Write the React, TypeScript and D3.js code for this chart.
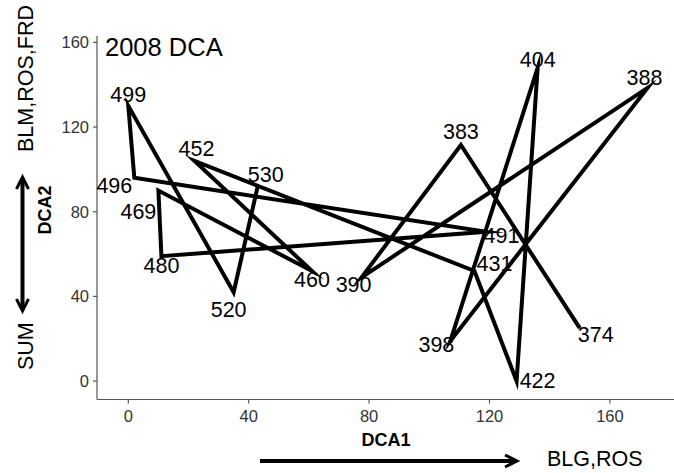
import React from 'react'
import * as d3 from 'd3'

// sites in the order they are joined by the path
const sites = ['530', '520', '499', '496', '491', '480', '469', '460', '452', '431', '422', '404', '398', '388', '390', '383', '374']
const dca1 = [43, 35, 0, 2, 119, 11, 10, 61, 22, 115, 129, 136, 107, 172.5, 77.5, 110.5, 150]
const dca2 = [92, 42, 130, 96, 70.5, 59, 90, 52, 104, 52, 0, 148, 19, 138.5, 49, 111.5, 25]
const xTicks = [0, 40, 80, 120, 160]
const yTicks = [0, 40, 80, 120, 160]

// label offsets in px (repelled labels)
const labelNudge: Record<string, [number, number]> = {
  '530': [8, -12], '520': [-5, 17], '499': [0, -12], '496': [-20, 7],
  '491': [15, 3], '480': [0, 9], '469': [-20, 21], '460': [0, 8],
  '452': [2, -13], '431': [20, -8], '422': [21, -1], '404': [0, -8],
  '398': [-14, 3], '388': [-3, -11], '390': [-8, 7], '383': [0, -14],
  '374': [16, 6],
}

const W = 674, H = 473
const font = '"Liberation Sans", Arial, sans-serif'

export default function App() {
  const x = d3.scaleLinear().domain([-10.4, 180.3]).range([97, 671])
  const y = d3.scaleLinear().domain([-8.7, 163]).range([399.5, 36])

  const pts = sites.map((s, i) => ({ s, a: dca1[i], b: dca2[i] }))
  const line = d3.line<{ a: number; b: number }>()
    .x(d => x(d.a))
    .y(d => y(d.b))

  const axisCol = '#555'
  const fs = 21.5
  const [x0, x1] = x.range()
  const [y0, y1] = y.range()

  return (
    <svg width={W} height={H} style={{ position: 'absolute', left: 0, top: 0, background: '#fff' }} fontFamily={font}>
      {/* axes */}
      <line x1={x0} x2={674} y1={y0} y2={y0} stroke={axisCol} strokeWidth={1.2} />
      <line x1={x0} x2={x0} y1={y0} y2={y1} stroke={axisCol} strokeWidth={1.2} />
      {xTicks.map(t => (
        <g key={'x' + t}>
          <line x1={x(t)} x2={x(t)} y1={y0} y2={y0 + 4} stroke={axisCol} strokeWidth={1.2} />
          <text x={x(t)} y={y0 + 22} textAnchor="middle" fontSize={16.5} fill="#333">{t}</text>
        </g>
      ))}
      {yTicks.map(t => (
        <g key={'y' + t}>
          <line x1={x0 - 4} x2={x0} y1={y(t)} y2={y(t)} stroke={axisCol} strokeWidth={1.2} />
          <text x={x0 - 8} y={y(t) + 6} textAnchor="end" fontSize={16.5} fill="#333">{t}</text>
        </g>
      ))}

      {/* path */}
      <path d={line(pts) || ''} fill="none" stroke="#000" strokeWidth={4} strokeLinejoin="miter" strokeMiterlimit={10} />

      {/* site labels */}
      {pts.map(p => {
        const [dx, dy] = labelNudge[p.s]
        return (
          <text key={p.s} x={x(p.a) + dx} y={y(p.b) + dy + 0.36 * fs} textAnchor="middle" fontSize={fs} fill="#000">{p.s}</text>
        )
      })}

      <text x={105} y={56} fontSize={25.5} fill="#000">2008 DCA</text>

      {/* DCA1 axis annotation */}
      <text x={386} y={446} textAnchor="middle" fontSize={18} fontWeight="bold" fill="#000">DCA1</text>
      <line x1={260} x2={515} y1={461} y2={461} stroke="#000" strokeWidth={4} />
      <path d="M505,455 L517,461 L505,467" fill="none" stroke="#000" strokeWidth={3} />
      <text x={547} y={466} fontSize={fs} fill="#000">BLG,ROS</text>

      {/* DCA2 axis annotation */}
      <text transform="translate(33,152) rotate(-90)" fontSize={fs} fill="#000">BLM,ROS,FRD</text>
      <text transform="translate(33,370) rotate(-90)" fontSize={fs} fill="#000">SUM</text>
      <text transform="translate(51,210) rotate(-90)" textAnchor="middle" fontSize={18} fontWeight="bold" fill="#000">DCA2</text>
      <line x1={22.5} x2={22.5} y1={180} y2={308} stroke="#000" strokeWidth={4} />
      <path d="M16.5,189 L22.5,177 L28.5,189" fill="none" stroke="#000" strokeWidth={3} />
      <path d="M16.5,299 L22.5,311 L28.5,299" fill="none" stroke="#000" strokeWidth={3} />
    </svg>
  )
}
